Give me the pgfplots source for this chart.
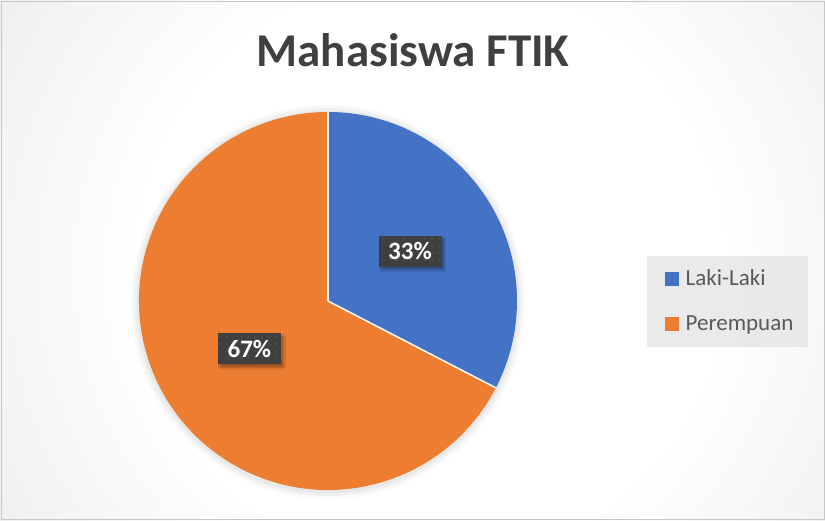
\documentclass[border=0pt]{standalone}
\usepackage{pgfplots}
\pgfplotsset{compat=1.18}
\usepackage{pgfplotstable}
\usepackage{fontspec}
\setmainfont{Carlito}
\usetikzlibrary{patterns.meta,shadows.blur}

\definecolor{lakiblue}{HTML}{4472C4}
\definecolor{perorange}{HTML}{ED7D31}
\definecolor{titlegray}{HTML}{404040}
\definecolor{legendgray}{HTML}{595959}
\definecolor{labelbox}{HTML}{3F3F3F}
\definecolor{labeldot}{HTML}{535353}
\definecolor{bgA}{HTML}{F0F0F0}
\definecolor{bgB}{HTML}{D9D9D9}
\definecolor{bgC}{HTML}{C6C6C6}
\pgfdeclareradialshading{chartbg}{\pgfpoint{0bp}{0bp}}{%
  color(0bp)=(white); color(14bp)=(white); color(24bp)=(bgA); color(41bp)=(bgB); color(49bp)=(bgC); color(50bp)=(bgC)}

% share of students (percent)
\pgfplotstableread{
group value
Laki-Laki 32.6
Perempuan 67.4
}\piedata

\begin{document}
\begin{tikzpicture}
\pgfplotstablegetelem{0}{value}\of\piedata \let\va\pgfplotsretval
\pgfplotstablegetelem{1}{value}\of\piedata \let\vb\pgfplotsretval
\pgfmathsetmacro\total{\va+\vb}
\pgfmathsetmacro\fa{\va/\total}
\pgfmathsetmacro\fb{\vb/\total}
\pgfmathsetmacro\aEnd{90-360*\fa}
\pgfmathsetmacro\bEnd{\aEnd-360*\fb}
\pgfmathsetmacro\aMid{(90+\aEnd)/2}
\pgfmathsetmacro\bMid{(\aEnd+\bEnd)/2}
\pgfmathtruncatemacro\pa{round(100*\fa)}
\pgfmathtruncatemacro\pb{round(100*\fb)}
\begin{axis}[
    x=1pt, y=1pt,
    xmin=0, xmax=825, ymin=0, ymax=520,
    hide axis,
    clip=false,
    scale only axis
]
% chart area: circular gradient, clipped to the frame
\begin{scope}
\clip (axis cs:0,0) rectangle (axis cs:825,520);
\shade[shading=chartbg] (axis cs:-90,-270) rectangle (axis cs:950,770);
\end{scope}
\draw[draw=black!22, line width=0.8pt] (axis cs:1,1) rectangle (axis cs:824,519);

% title
\node[anchor=base, text=titlegray, font=\fontsize{47}{56}\selectfont\bfseries]
  at (axis cs:413,453) {Mahasiswa FTIK};

% faint halo round the pie
\fill[black, opacity=0.025] (axis cs:328,218) circle[radius=197pt];
\fill[black, opacity=0.03] (axis cs:328,218) circle[radius=194pt];
\fill[black, opacity=0.035] (axis cs:328,218) circle[radius=191.5pt];

% slices
\fill[lakiblue]
  (axis cs:328,219) -- ++(90:189pt) arc[start angle=90, end angle=\aEnd, radius=189pt] -- cycle;
\fill[perorange]
  (axis cs:328,219) -- ++(\aEnd:189pt) arc[start angle=\aEnd, end angle=\bEnd, radius=189pt] -- cycle;
\draw[white, line width=1.5pt] (axis cs:328,219) -- ++(90:189pt);
\draw[white, line width=1.5pt] (axis cs:328,219) -- ++(\aEnd:189pt);

% data labels
\tikzset{dlabel/.style={fill=labelbox, text=white, minimum width=63pt, minimum height=31pt,
  inner sep=0pt, font=\fontsize{25}{30}\selectfont\bfseries,
  blur shadow={shadow xshift=2.5pt, shadow yshift=-3pt, shadow opacity=35, shadow blur steps=6},
  postaction={pattern={Dots[distance=6.5pt, radius=1pt]}, pattern color=labeldot}}}
\path (axis cs:328,219) ++(\aMid:96pt) node[dlabel] {\pa\%};
\path (axis cs:328,219) ++(\bMid:92pt) node[dlabel] {\pb\%};

% legend
\fill[white!90!black, opacity=0.8] (axis cs:647,173) rectangle (axis cs:808,264);
\fill[lakiblue] (axis cs:665,234.3) rectangle (axis cs:679,248.3);
\node[anchor=base west, inner sep=0pt, text=legendgray, font=\fontsize{23}{28}\selectfont]
  at (axis cs:685.5,234.3) {Laki-Laki};
\fill[perorange] (axis cs:665,189.3) rectangle (axis cs:679,203.3);
\node[anchor=base west, inner sep=0pt, text=legendgray, font=\fontsize{23}{28}\selectfont]
  at (axis cs:685.5,189.3) {Perempuan};
\end{axis}
\end{tikzpicture}
\end{document}
